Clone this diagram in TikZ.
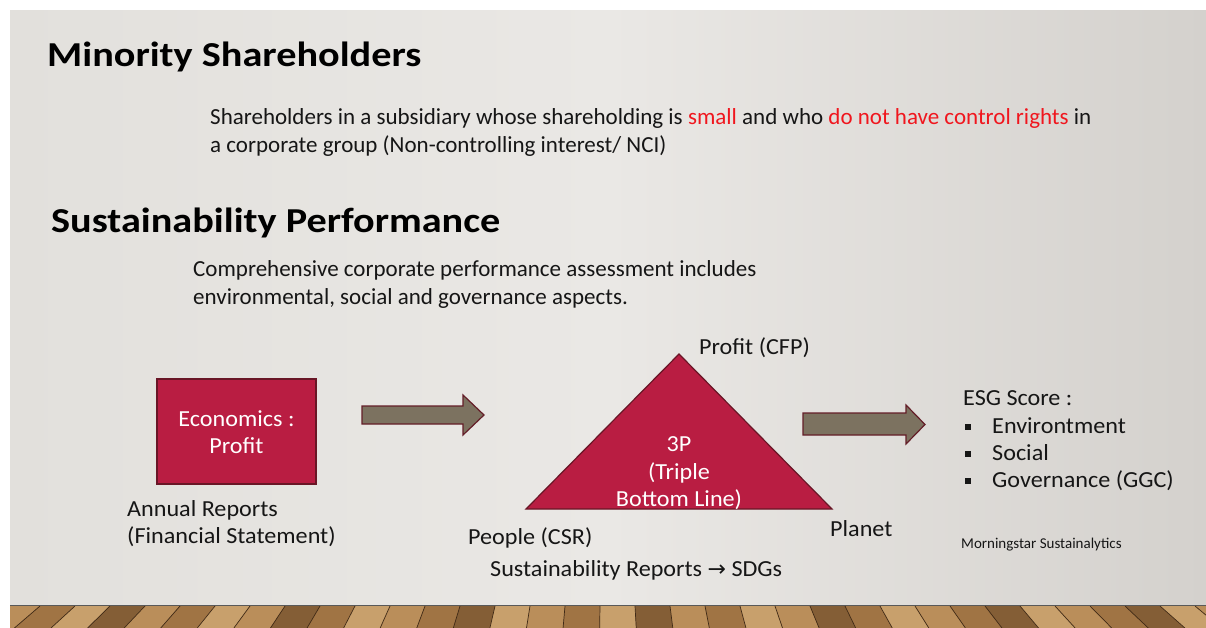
\documentclass[tikz,border=0pt]{standalone}
\usepackage{fontspec}
\setmainfont{Carlito}
\newfontfamily\titlefont[FakeStretch=1.15]{Carlito}
\newfontfamily\diafont[FakeStretch=1.05]{Carlito}
\newfontfamily\symfont{DejaVu Sans}
\begin{document}
\begin{tikzpicture}[x=1pt,y=-1pt]
\definecolor{crim}{RGB}{185,29,66}
\definecolor{crimb}{RGB}{105,22,38}
\definecolor{arrf}{RGB}{124,114,96}
\definecolor{arrb}{RGB}{100,30,40}
\definecolor{redt}{RGB}{240,22,30}
\definecolor{txtc}{RGB}{22,22,22}
\definecolor{bgl}{RGB}{226,224,220}
\definecolor{bgm}{RGB}{234,232,229}
\definecolor{bgr}{RGB}{212,209,205}
\definecolor{wa}{RGB}{160,116,68}
\definecolor{wb}{RGB}{186,142,90}
\definecolor{wc}{RGB}{132,94,54}
\definecolor{wd}{RGB}{200,160,108}
\definecolor{seam}{RGB}{64,42,22}
\tikzset{
  title/.style={anchor=base west, inner sep=0pt, text=black, font=\titlefont\fontsize{35}{40}\selectfont\bfseries},
  body/.style={anchor=base west, inner sep=0pt, text=txtc, font=\fontsize{23}{28}\selectfont},
  dia/.style={anchor=base west, inner sep=0pt, text=txtc, font=\diafont\fontsize{23}{27}\selectfont},
  diaw/.style={anchor=base, inner sep=0pt, text=white, font=\diafont\fontsize{23}{27}\selectfont},
  small/.style={anchor=base west, inner sep=0pt, text=txtc, font=\fontsize{15}{17}\selectfont},
  blockarrow/.style={fill=arrf, draw=arrb, line width=1.2pt, line join=miter},
  bul/.style={fill=txtc, draw=none, minimum size=6.5pt, inner sep=0pt},
}
\useasboundingbox (0,0) rectangle (1206,628);
\fill[white] (0,0) rectangle (1206,628);
% slide background
\shade[left color=bgl, right color=bgr, middle color=bgm] (10,11) rectangle (1206,606);
% wood floor
\begin{scope}
\clip (10,605) rectangle (1206,628);
\fill[wa] (10,605) rectangle (1206,628);
\foreach \x/\c in {5/wb,40/wa,75/wd,110/wc,145/wb,180/wa,215/wd,250/wb,285/wc,320/wa,355/wd,390/wb,425/wa,460/wc,495/wd,530/wb,565/wa,600/wd,635/wc,670/wb,705/wa,740/wd,775/wb,810/wc,845/wa,880/wd,915/wb,950/wa,985/wc,1020/wd,1055/wb,1090/wa,1125/wc,1160/wd,1195/wb}
  \fill[\c] (\x,606) -- (\x+35,606) -- ({\x+35+(\x+35-608)*0.045},628) -- ({\x+(\x-608)*0.045},628) -- cycle;
\foreach \x in {40,75,110,145,180,215,250,285,320,355,390,425,460,495,530,565,600,635,670,705,740,775,810,845,880,915,950,985,1020,1055,1090,1125,1160,1195}
  \draw[seam, line width=0.7pt] (\x,606) -- ({\x+(\x-608)*0.045},628);
\end{scope}
\draw[gray!70!black, line width=1.2pt] (10,605.5) -- (1206,605.5);
% titles and text
\node[title] (t1) at (47,67) {Minority Shareholders};
\node[body] (p1) at (210,125) {Shareholders in a subsidiary whose shareholding is \textcolor{redt}{small} and who \textcolor{redt}{do not have control rights} in};
\node[body] (p2) at (210,153) {a corporate group (Non-controlling interest/ NCI)};
\node[title] (t2) at (51,233) {Sustainability Performance};
\node[body] (p3) at (193,276) {Comprehensive corporate performance assessment includes};
\node[body] (p4) at (193,304) {environmental, social and governance aspects.};
% economics box
\node[fill=crim, draw=crimb, line width=1.2pt, minimum width=159pt, minimum height=105pt, inner sep=0pt] (eco) at (236.5,431.5) {};
\node[diaw] (eco1) at (236.5,426) {Economics :};
\node[diaw] (eco2) at (236.5,453) {Profit};
\node[dia] (ar1) at (127,516) {Annual Reports};
\node[dia] (ar2) at (127,543) {(Financial Statement)};
% arrow 1
\draw[blockarrow] (362,406) -- (463,406) -- (463,395) -- (484,415) -- (463,435) -- (463,424) -- (362,424) -- cycle;
% triangle
\coordinate (apex) at (679,354);
\coordinate (bl) at (526,509);
\coordinate (br) at (832,509);
\draw[fill=crim, draw=crimb, line width=1.2pt, line join=miter] (apex) -- (br) -- (bl) -- cycle;
\node[diaw] (tp1) at (679,451) {3P};
\node[diaw] (tp2) at (679,479) {(Triple};
\node[diaw] (tp3) at (679,506) {Bottom Line)};
\node[dia] (cfp) at (699,354) {Profit (CFP)};
\node[dia] (planet) at (830,536) {Planet};
\node[dia] (people) at (468,544) {People (CSR)};
\node[dia] (sr) at (490,576) {Sustainability Reports {\symfont\fontsize{22}{24}\selectfont →} SDGs};
% arrow 2
\draw[blockarrow] (803,413) -- (906,413) -- (906,405) -- (925,424.5) -- (906,444) -- (906,435) -- (803,435) -- cycle;
% ESG
\node[dia] (esg) at (963,405) {ESG Score :};
\node[bul] (b1) at (968,427) {};
\node[dia] (e1) at (992,433) {Environtment};
\node[bul] (b2) at (968,454) {};
\node[dia] (e2) at (992,460) {Social};
\node[bul] (b3) at (968,481) {};
\node[dia] (e3) at (992,487) {Governance (GGC)};
\node[small] (ms) at (961,548) {Morningstar Sustainalytics};
\end{tikzpicture}
\end{document}
